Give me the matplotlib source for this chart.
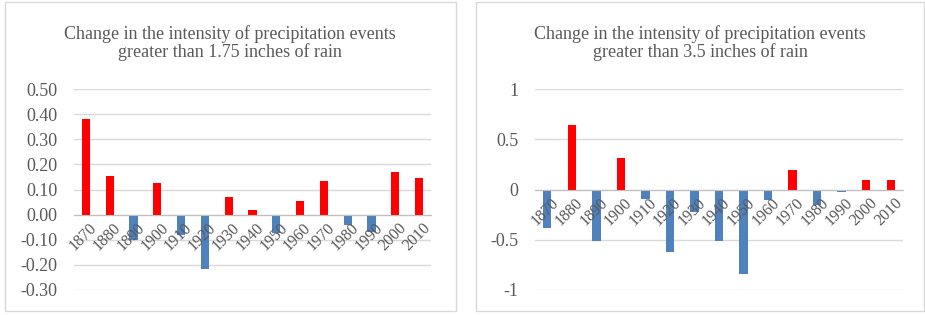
import numpy as np
import matplotlib
matplotlib.use("Agg")
import matplotlib.pyplot as plt
from matplotlib.patches import Rectangle

# decades on the x axis
years = [1870, 1880, 1890, 1900, 1910, 1920, 1930, 1940, 1950, 1960,
         1970, 1980, 1990, 2000, 2010]

# change in intensity, events > 1.75 in
vals_175 = [0.38, 0.153, -0.10, 0.125, -0.082, -0.216, 0.069, 0.017, -0.073,
            0.053, 0.133, -0.041, -0.069, 0.169, 0.145]

# change in intensity, events > 3.5 in
vals_35 = [-0.38, 0.64, -0.51, 0.31, -0.09, -0.62, -0.22, -0.51, -0.84,
           -0.10, 0.19, -0.15, -0.027, 0.09, 0.09]

titles = ["Change in the intensity of precipitation events\ngreater than 1.75 inches of rain",
          "Change in the intensity of precipitation events\ngreater than 3.5 inches of rain"]

RED = "#ff0000"
BLUE = "#4f81bd"
TXT = "#595959"
GRID = "#d9d9d9"

plt.rcParams['font.family'] = ['Liberation Serif', 'DejaVu Serif']

fig = plt.figure(figsize=(9.25, 3.15), dpi=100)
W, H = 925, 315

# chart borders (pixels)
for x0, x1 in [(5, 456), (476, 924)]:
    fig.patches.append(Rectangle((x0 / W, 4 / H), (x1 - x0) / W, (313 - 4) / H,
                                 transform=fig.transFigure, fill=False,
                                 edgecolor="#d9d9d9", linewidth=1.0))

def make_chart(left, right, vals, ticks, ticklabels, ylim, title, title_x):
    ax = fig.add_axes([left / W, 1 - 290 / H, (right - left) / W, (290 - 89) / H])
    x = np.arange(len(years))
    colors = [RED if v >= 0 else BLUE for v in vals]
    for t in ticks:
        ax.axhline(t, color=GRID, linewidth=1.0, zorder=0)
    ax.bar(x, vals, width=0.34, color=colors, zorder=1)
    ax.set_xlim(-0.5, len(years) - 0.5)
    ax.set_ylim(*ylim)
    ax.set_yticks(ticks)
    ax.set_yticklabels(ticklabels, fontsize=13, color=TXT)
    ax.tick_params(axis='both', length=0)
    ax.tick_params(axis='y', pad=12)
    for s in ['top', 'right', 'left']:
        ax.spines[s].set_visible(False)
    ax.spines['bottom'].set_position(('data', 0))
    ax.spines['bottom'].set_color("#bfbfbf")
    ax.set_xticks(x + 0.13)
    ax.set_xticklabels([str(y) for y in years], rotation=45, ha='right',
                       rotation_mode='anchor', fontsize=11.5, color=TXT)
    ax.tick_params(axis='x', pad=4)
    fig.text(title_x / W, 1 - 43 / H, title, ha='center', va='center',
             fontsize=13, color=TXT, linespacing=1.05)
    return ax

make_chart(74, 431, vals_175, np.arange(-0.3, 0.51, 0.1),
           ["%.2f" % t for t in np.arange(-0.3, 0.51, 0.1)],
           (-0.3, 0.5), titles[0], 230)
make_chart(535, 903, vals_35, [-1, -0.5, 0, 0.5, 1],
           ["-1", "-0.5", "0", "0.5", "1"],
           (-1, 1), titles[1], 700)

fig.savefig("out.png", dpi=100)
